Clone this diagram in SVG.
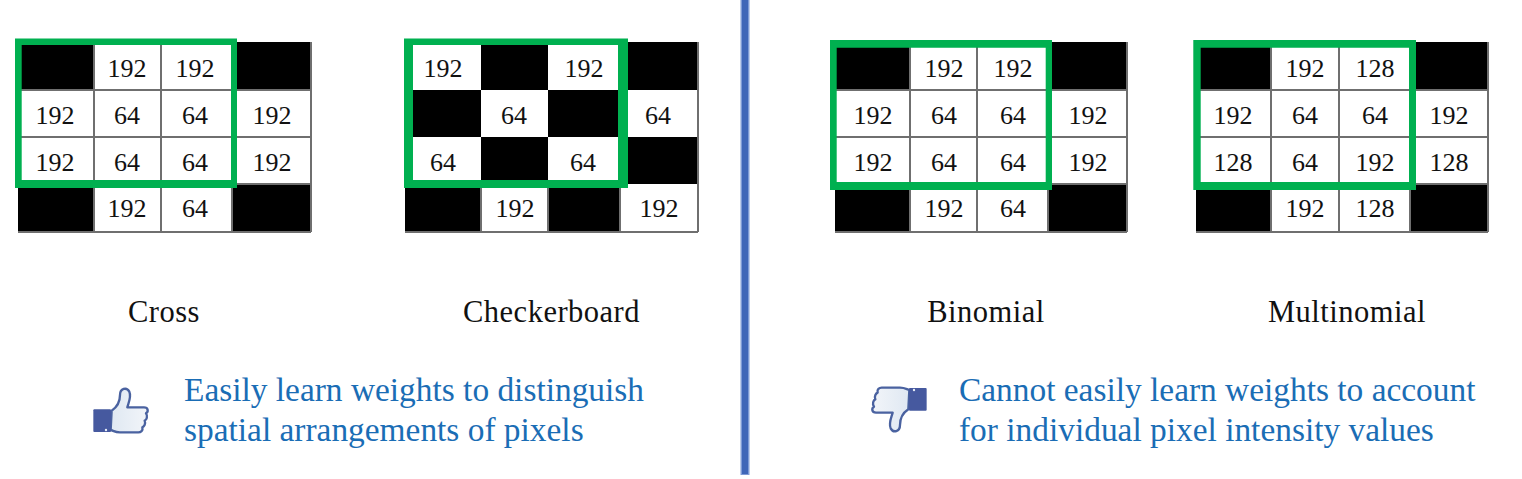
<svg xmlns="http://www.w3.org/2000/svg" xmlns:xlink="http://www.w3.org/1999/xlink" width="1522" height="479" viewBox="0 0 1522 479">
<style>
.k{fill:#000}
.l{stroke:#6f6f6f;stroke-width:2;fill:none}
.g{fill:#00b050;fill-rule:evenodd}
.n{font:26px "Liberation Serif","Times New Roman",serif;fill:#111;text-anchor:middle}
.c{font:30.5px "Liberation Serif","Times New Roman",serif;fill:#111;text-anchor:middle;letter-spacing:.5px}
.b{font:33.4px "Liberation Serif","Times New Roman",serif;fill:#1a6db5}
</style>
<defs>
<linearGradient id="hand" x1="0" y1="0" x2="1" y2="0"><stop offset="0" stop-color="#dfe8f2"/><stop offset="1" stop-color="#f2f5f9"/></linearGradient>
<g id="thumb">
<path d="M125 122C140 112 150 95 150 75C150 55 170 50 178 65C185 80 175 100 172 112L222 112C235 112 236 125 228 130C234 138 230 150 224 152C228 162 222 170 217 172C220 182 212 187 205 187L150 187C135 187 130 182 122 180Z" fill="url(#hand)" stroke="#4a62a0" stroke-width="7" stroke-linejoin="round"/>
<rect x="70" y="118" width="53" height="68" rx="3" fill="#46599f"/>
<circle cx="108" cy="180" r="3.500" fill="#e8eef8"/>
</g>
</defs>
<rect width="1522" height="479" fill="#fff"/>
<g id="divider"><rect x="740.500" y="0" width="9" height="475" fill="#7d9ad6"/><rect x="742" y="0" width="6" height="474" fill="#3f66b8"/></g>

<g id="grid-cross">
<path class="k" d="M18 42H94V90H18ZM232 42H311V90H232ZM18 184H94V232H18ZM232 184H311V232H232Z"/>
<path class="l" d="M94 42V232M161 42V232M232 42V232M311 42V232M18 90H311M18 137H311M18 184H311M18 232H311"/>
<g class="n">
<text x="127" y="77">192</text><text x="195" y="77">192</text>
<text x="55" y="124">192</text><text x="127" y="124">64</text><text x="195" y="124">64</text><text x="272" y="124">192</text>
<text x="55" y="171">192</text><text x="127" y="171">64</text><text x="195" y="171">64</text><text x="272" y="171">192</text>
<text x="127" y="217">192</text><text x="195" y="217">64</text>
</g>
<path class="g" d="M15 38.500H237V188H15ZM21.700 45V180H231V45Z"/>
<text class="c" x="164" y="322">Cross</text>
</g>

<g id="grid-checkerboard">
<path class="k" d="M481 42H548V90H481ZM620 42H698V90H620ZM405 90H481V137H405ZM548 90H620V137H548ZM481 137H548V184H481ZM620 137H698V184H620ZM405 184H481V232H405ZM548 184H620V232H548Z"/>
<path class="l" d="M698 42V232M405 232H698M481 184V232M548 184V232M620 184V232"/>
<g class="n">
<text x="443" y="77">192</text><text x="584" y="77">192</text>
<text x="514" y="124">64</text><text x="658" y="124">64</text>
<text x="443" y="171">64</text><text x="583" y="171">64</text>
<text x="515" y="217">192</text><text x="659" y="217">192</text>
</g>
<path class="g" d="M404 38.500H628V188H404ZM413 45V180H618V45Z"/>
<text class="c" x="551.500" y="322">Checkerboard</text>
</g>

<g id="grid-binomial">
<path class="k" d="M835 42H910V90H835ZM1048 42H1127V90H1048ZM835 184H910V232H835ZM1048 184H1127V232H1048Z"/>
<path class="l" d="M910 42V232M977 42V232M1048 42V232M1127 42V232M835 90H1127M835 137H1127M835 184H1127M835 232H1127"/>
<g class="n">
<text x="944" y="77">192</text><text x="1013" y="77">192</text>
<text x="873" y="124">192</text><text x="944" y="124">64</text><text x="1013" y="124">64</text><text x="1088" y="124">192</text>
<text x="873" y="171">192</text><text x="944" y="171">64</text><text x="1013" y="171">64</text><text x="1088" y="171">192</text>
<text x="944" y="217">192</text><text x="1013" y="217">64</text>
</g>
<path class="g" d="M830 40H1052V190H830ZM836.700 47.700V182H1045.700V47.700Z"/>
<text class="c" x="986" y="322">Binomial</text>
</g>

<g id="grid-multinomial">
<path class="k" d="M1196 42H1271V90H1196ZM1410 42H1488V90H1410ZM1196 184H1271V232H1196ZM1410 184H1488V232H1410Z"/>
<path class="l" d="M1271 42V232M1339 42V232M1410 42V232M1488 42V232M1196 90H1488M1196 137H1488M1196 184H1488M1196 232H1488"/>
<g class="n">
<text x="1305" y="77">192</text><text x="1375" y="77">128</text>
<text x="1233" y="124">192</text><text x="1305" y="124">64</text><text x="1375" y="124">64</text><text x="1449" y="124">192</text>
<text x="1233" y="171">128</text><text x="1305" y="171">64</text><text x="1375" y="171">192</text><text x="1449" y="171">128</text>
<text x="1305" y="217">192</text><text x="1375" y="217">128</text>
</g>
<path class="g" d="M1193.300 40H1416V190H1193.300ZM1200.700 47.700V182H1409V47.700Z"/>
<text class="c" x="1347" y="322">Multinomial</text>
</g>

<g id="thumb-up"><use xlink:href="#thumb" transform="translate(70 370) scale(.3333)"/></g>
<g id="thumb-down"><use xlink:href="#thumb" transform="translate(850 370) scale(.3333) rotate(180 150 120)"/></g>

<g id="note-left">
<text class="b" x="184" y="401">Easily learn weights to distinguish</text>
<text class="b" x="184" y="441">spatial arrangements of pixels</text>
</g>
<g id="note-right">
<text class="b" x="959" y="401">Cannot easily learn weights to account</text>
<text class="b" x="959" y="441">for individual pixel intensity values</text>
</g>
</svg>
